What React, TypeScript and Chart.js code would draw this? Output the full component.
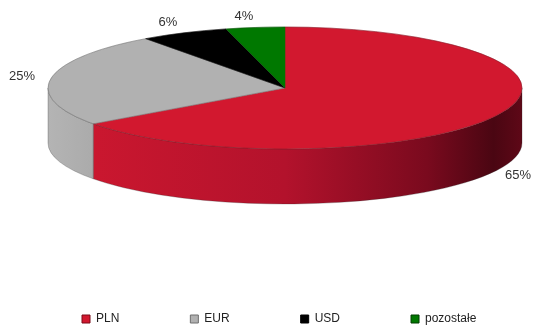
import React, { useEffect, useRef } from 'react';
import { Chart, registerables } from 'chart.js';

Chart.register(...registerables);

const categories = ['PLN', 'EUR', 'USD', 'pozostałe'];
const shares = [65, 25, 6, 4];
const percentLabels = ['65%', '25%', '6%', '4%'];
const topColors = ['#D2182F', '#B1B1B1', '#000000', '#007800'];
const legendBorders = ['#7a0a18', '#6e6e6e', '#000000', '#003c00'];

const CX = 285;
const CY = 88;
const RX = 237;
const RY = 61;
const DEPTH = 55;
const LEGEND_PAD = 71;
const LEGEND_Y = 319;
const LEGEND_X0 = 82;
const FONT = "'Liberation Sans', Arial, sans-serif";

function sideFill(ctx: CanvasRenderingContext2D, i: number): any {
  if (i === 0) {
    const g = ctx.createLinearGradient(CX - RX, 0, CX + RX, 0);
    g.addColorStop(0, '#C8162E');
    g.addColorStop(0.093, '#CA172F');
    g.addColorStop(0.5, '#B3122C');
    g.addColorStop(0.8, '#7A0A1E');
    g.addColorStop(0.94, '#4A0612');
    g.addColorStop(1, '#5E0817');
    return g;
  }
  if (i === 1) {
    const g = ctx.createLinearGradient(CX - RX, 0, CX - RX + 60, 0);
    g.addColorStop(0, '#B4B4B4');
    g.addColorStop(1, '#A8A8A8');
    return g;
  }
  if (i === 2) return '#111111';
  return '#005500';
}

const pie3d = {
  id: 'pie3d',
  afterLayout(chart: any) {
    const lg = chart.legend;
    if (!lg || !lg.lineWidths) return;
    const itemH = 12;
    const dy = LEGEND_Y - (lg.top + LEGEND_PAD + itemH / 2);
    lg.top += dy;
    lg.bottom += dy;
    const startX = (lg.left + LEGEND_PAD + lg.right - lg.lineWidths[0]) / 2;
    const dx = LEGEND_X0 - startX;
    lg.left += dx;
    lg.right += dx;
  },
  beforeDatasetsDraw(chart: any) {
    const ctx: CanvasRenderingContext2D = chart.ctx;
    const meta = chart.getDatasetMeta(0);
    meta.data.forEach((arc: any, i: number) => {
      const { startAngle, endAngle } = arc.getProps(['startAngle', 'endAngle'], true);
      const a = Math.max(startAngle, 0);
      const b = Math.min(endAngle, Math.PI);
      if (b <= a) return;
      ctx.save();
      ctx.beginPath();
      ctx.ellipse(CX, CY, RX, RY, 0, a, b, false);
      ctx.lineTo(CX + RX * Math.cos(b), CY + DEPTH + RY * Math.sin(b));
      ctx.ellipse(CX, CY + DEPTH, RX, RY, 0, b, a, true);
      ctx.closePath();
      ctx.fillStyle = sideFill(ctx, i);
      ctx.fill();
      ctx.strokeStyle = 'rgba(40,40,40,0.45)';
      ctx.lineWidth = 0.6;
      ctx.stroke();
      ctx.restore();
    });
    const first = meta.data[0];
    const { x, y, outerRadius } = first.getProps(['x', 'y', 'outerRadius'], true);
    ctx.save();
    ctx.translate(CX, CY);
    ctx.scale(RX / outerRadius, RY / outerRadius);
    ctx.translate(-x, -y);
  },
  afterDatasetsDraw(chart: any) {
    const ctx: CanvasRenderingContext2D = chart.ctx;
    ctx.restore();
    const meta = chart.getDatasetMeta(0);
    ctx.save();
    ctx.strokeStyle = 'rgba(40,40,40,0.45)';
    ctx.lineWidth = 0.6;
    ctx.beginPath();
    ctx.ellipse(CX, CY, RX, RY, 0, 0, Math.PI * 2);
    ctx.stroke();
    meta.data.forEach((arc: any, i: number) => {
      const { startAngle } = arc.getProps(['startAngle'], true);
      if (i === 0) return;
      ctx.beginPath();
      ctx.moveTo(CX, CY);
      ctx.lineTo(CX + RX * Math.cos(startAngle), CY + RY * Math.sin(startAngle));
      ctx.stroke();
    });
    ctx.restore();
    ctx.save();
    ctx.font = `13px ${FONT}`;
    ctx.fillStyle = '#333333';
    ctx.textBaseline = 'middle';
    meta.data.forEach((arc: any, i: number) => {
      const { startAngle, endAngle } = arc.getProps(['startAngle', 'endAngle'], true);
      const mid = (startAngle + endAngle) / 2;
      const c = Math.cos(mid);
      const s = Math.sin(mid);
      const ax = CX + RX * c;
      const ay = CY + RY * s + (s > 0 ? DEPTH : 0);
      ctx.textAlign = c < 0 ? 'right' : 'left';
      ctx.fillText(percentLabels[i], ax + c * (c < 0 ? 16 : 10), ay + s * 11);
    });
    ctx.restore();
  },
};

export default function App() {
  const ref = useRef<HTMLCanvasElement | null>(null);
  useEffect(() => {
    if (!ref.current) return;
    const chart = new Chart(ref.current, {
      type: 'pie',
      data: {
        labels: categories,
        datasets: [
          {
            data: shares,
            backgroundColor: topColors,
            borderColor: topColors,
            borderWidth: 0.4,
          },
        ],
      },
      options: {
        responsive: false,
        animation: false,
        devicePixelRatio: 1,
        layout: { padding: { left: -60, right: -60, top: 0, bottom: 0 } },
        plugins: {
          tooltip: { enabled: false },
          legend: {
            position: 'bottom',
            labels: {
              boxWidth: 8,
              boxHeight: 8,
              padding: LEGEND_PAD,
              color: '#222222',
              font: { family: FONT, size: 12 },
              generateLabels: () =>
                categories.map((t, i) => ({
                  text: t,
                  fillStyle: topColors[i],
                  strokeStyle: legendBorders[i],
                  lineWidth: 1,
                  hidden: false,
                  index: i,
                  fontColor: '#222222',
                })),
            },
          },
        },
      } as any,
      plugins: [pie3d],
    });
    return () => chart.destroy();
  }, []);
  return (
    <div style={{ position: 'absolute', left: 0, top: 0, width: 533, height: 327, background: '#fff' }}>
      <canvas ref={ref} width={533} height={327} style={{ display: 'block' }} />
    </div>
  );
}
